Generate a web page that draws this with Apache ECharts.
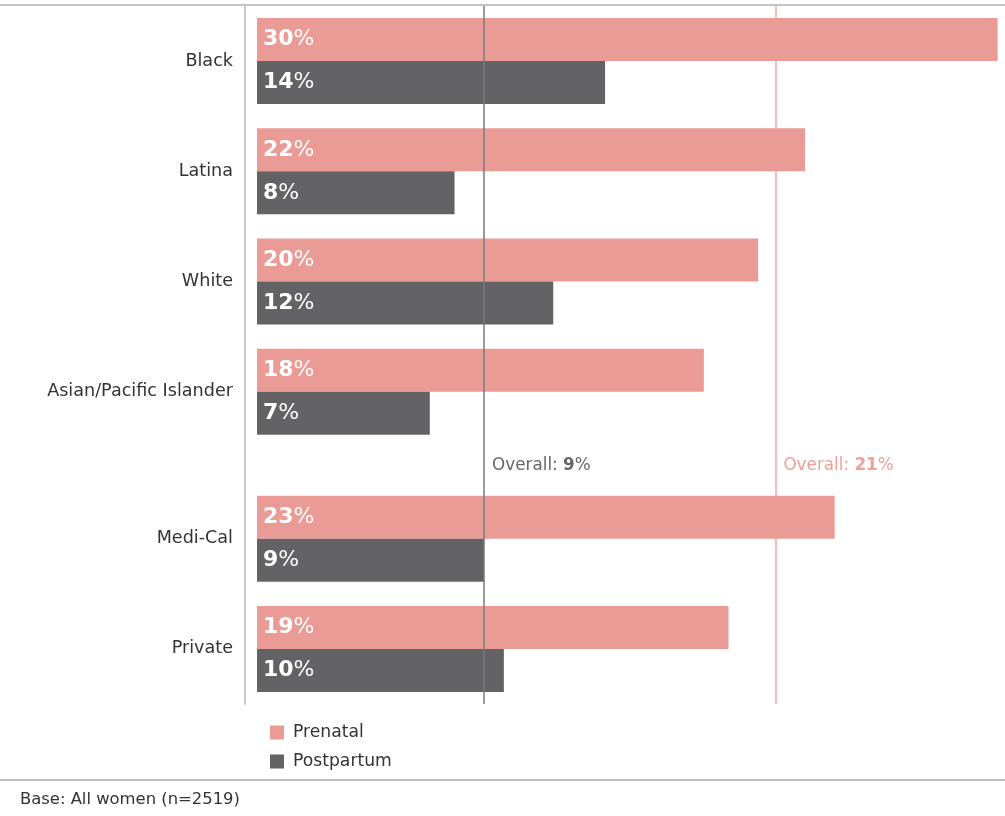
<!DOCTYPE html>
<html>
<head>
<meta charset="utf-8">
<style>
html,body{margin:0;padding:0;background:#fff;}
#chart{width:1005px;height:816px;}
</style>
<script src="https://cdn.jsdelivr.net/npm/echarts@6/dist/echarts.min.js"></script>
</head>
<body>
<div id="chart"></div>
<script>
// ---- data ----
const categories = ['Black', 'Latina', 'White', 'Asian/Pacific Islander', 'Medi-Cal', 'Private'];
const prenatal = [30, 22.2, 20.3, 18.1, 23.4, 19.1];
const postpartum = [14.1, 8, 12, 7, 9.2, 10];
const overallPrenatal = 21;
const overallPostpartum = 9.2;
const seriesNames = ['Prenatal', 'Postpartum'];
const baseNote = 'Base: All women (n=2519)';

// ---- layout (category slots, with a gap between race and insurance groups) ----
const groupSlots = [1, 4, 7, 10, 14, 17];
const totalSlots = 19;
const overallLabelSlot = 12;

const yCats = [];
const preData = [];
const postData = [];
for (let i = 0; i < totalSlots; i++) {
  const k = groupSlots.indexOf(i);
  yCats.push(k >= 0 ? categories[k] : ' '.repeat(i + 1));
  preData.push(k >= 0 ? prenatal[k] : '-');
  postData.push(k >= 0 ? postpartum[k] : '-');
}

const FONT = '"DejaVu Sans", "Open Sans", sans-serif';
const C_PRE = '#EA9B96';
const C_POST = '#636264';

const barLabel = {
  show: true,
  position: 'insideLeft',
  distance: 6,
  formatter: p => '{n|' + Math.round(p.value) + '}{p|%}',
  rich: {
    n: {color: '#fff', fontSize: 22, fontWeight: 'bold', fontFamily: FONT},
    p: {color: '#fff', fontSize: 22, fontWeight: 'normal', fontFamily: FONT}
  }
};

function overallSeries(value, lineColor, textColor, z) {
  return {
    type: 'scatter', z: z, silent: true,
    symbolSize: 0,
    itemStyle: {opacity: 1},
    data: [[value, overallLabelSlot]],
    label: {
      show: true, position: 'right', distance: 8, opacity: 1,
      formatter: p => '{t|Overall: }{n|' + Math.round(p.value[0]) + '}{t|%}',
      rich: {
        t: {color: textColor, fontSize: 16.8, fontFamily: FONT},
        n: {color: textColor, fontSize: 16.8, fontWeight: 'bold', fontFamily: FONT}
      }
    },
    markLine: {
      silent: true, symbol: 'none', z: z,
      label: {show: false},
      lineStyle: {color: lineColor, width: 1.5, type: 'solid', opacity: 1},
      data: [{xAxis: value}]
    }
  };
}

const chart = echarts.init(document.getElementById('chart'), null, {renderer: 'canvas'});
chart.setOption({
  animation: false,
  backgroundColor: '#fff',
  textStyle: {fontFamily: FONT},
  grid: {left: 257, right: 0, top: 6, height: 698, containLabel: false},
  xAxis: {
    type: 'value', min: 0, max: 30.3, show: false,
    splitLine: {show: false}
  },
  yAxis: {
    type: 'category', inverse: true, data: yCats, offset: 12,
    axisLine: {show: true, onZero: false, lineStyle: {color: '#c8c8c8', width: 2}},
    axisTick: {show: false},
    axisLabel: {color: '#333', fontSize: 17.6, fontFamily: FONT, margin: 12, interval: 0}
  },
  legend: {
    data: seriesNames,
    orient: 'vertical', left: 270, top: 724,
    itemWidth: 14, itemHeight: 14, itemGap: 12, icon: 'rect',
    padding: 0,
    textStyle: {color: '#333', fontSize: 17.2, fontFamily: FONT, lineHeight: 17, padding: [0, 0, 0, 4]}
  },
  series: [
    overallSeries(overallPrenatal, '#EEA8A3', '#EE9F99', 1),
    {
      name: seriesNames[0], type: 'bar', data: preData, z: 2,
      barWidth: 43, barGap: '0%',
      itemStyle: {color: C_PRE},
      label: barLabel
    },
    {
      name: seriesNames[1], type: 'bar', data: postData, z: 2,
      barWidth: 43, barGap: '0%',
      itemStyle: {color: C_POST},
      label: barLabel
    },
    overallSeries(overallPostpartum, '#7a7a7a', '#666666', 3)
  ],
  graphic: [
    {type: 'line', shape: {x1: 0, y1: 5, x2: 1005, y2: 5}, style: {stroke: '#c4c4c4', lineWidth: 2}},
    {type: 'line', shape: {x1: 0, y1: 780, x2: 1005, y2: 780}, style: {stroke: '#bdbdbd', lineWidth: 2}},
    {type: 'text', left: 20, top: 792, style: {text: baseNote, fill: '#333', font: '16.4px ' + FONT}}
  ]
});
</script>
</body>
</html>
